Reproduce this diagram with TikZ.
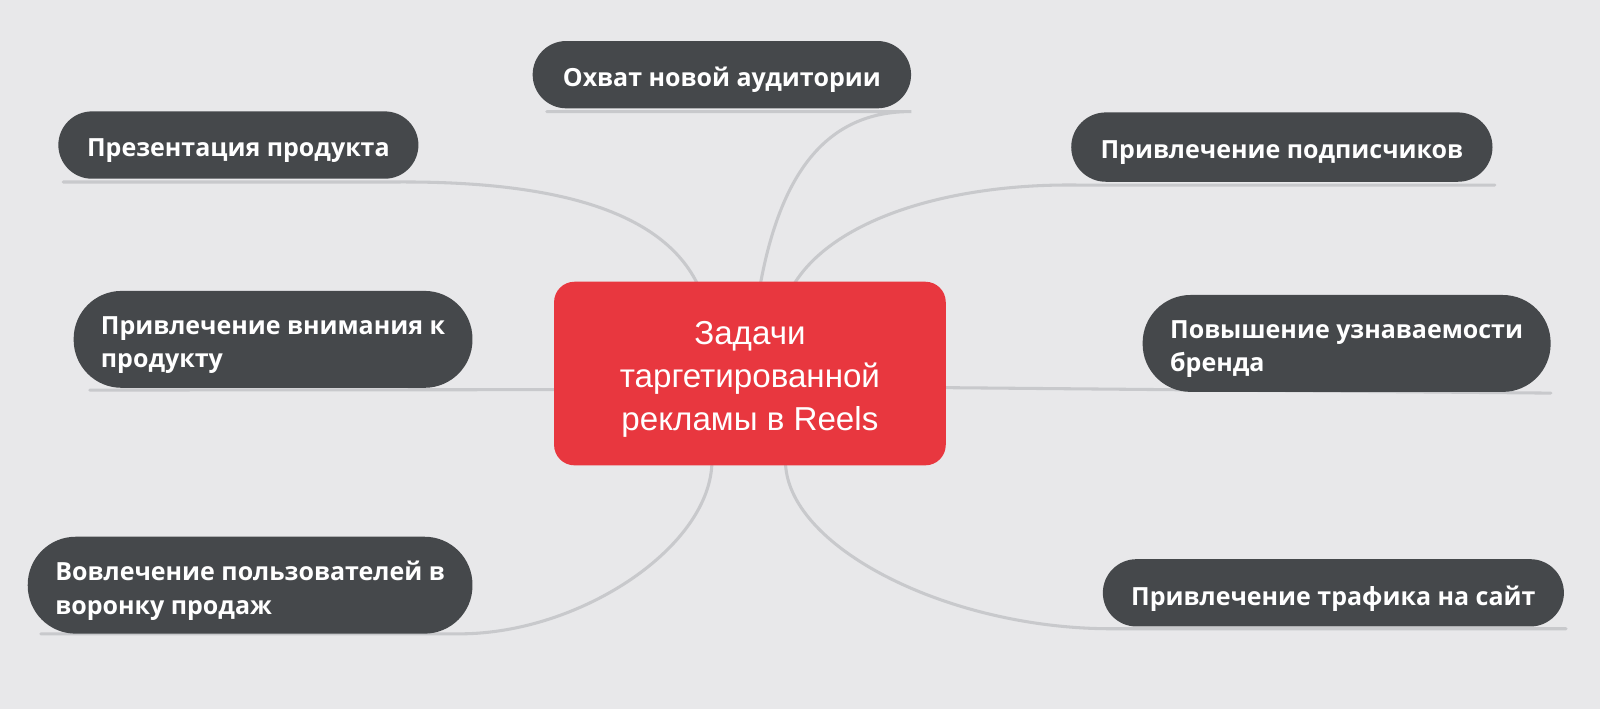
\documentclass[tikz,border=0pt]{standalone}
\usepackage{fontspec}
\setmainfont{Liberation Sans}
\newfontfamily\pillfont{Open Sans}
\usetikzlibrary{calc,backgrounds}
\definecolor{bg}{HTML}{E8E8EA}
\definecolor{pillc}{HTML}{45484B}
\definecolor{redc}{HTML}{E8373F}
\definecolor{linec}{HTML}{C8C9CC}
\newcommand{\dnl}[1]{\raisebox{-2.5pt}[\height][\depth]{#1}}
\tikzset{
 pill/.style={fill=pillc, text=white, font=\pillfont\bfseries\fontsize{24.5}{32.4}\selectfont, inner sep=0pt, anchor=north west, align=left, text depth=0pt},
 onepill/.style={pill, minimum height=66pt, rounded corners=33pt},
 twopill/.style={pill, minimum height=95pt, rounded corners=47pt},
 conn/.style={draw=linec, line width=3pt, line cap=round},
 hub/.style={fill=redc, text=white, rounded corners=20pt, inner sep=0pt, anchor=north west, align=center, font=\fontsize{32.5}{42.5}\selectfont, text depth=0pt},
}
\begin{document}
\begin{tikzpicture}[x=1pt,y=-1pt]
\useasboundingbox (0,0) rectangle (1568.6,695.1);
\node[hub, minimum width=384pt, minimum height=180pt] (c) at (543,276) {\dnl{Задачи}\\\dnl{таргетированной}\\\dnl{рекламы в Reels}};
\node[onepill, minimum width=371pt] (ohvat) at (522,40) {\dnl{Охват новой аудитории}};
\node[onepill, minimum width=353pt] (pres) at (57,109) {\dnl{Презентация продукта}};
\node[onepill, minimum width=413pt, minimum height=68pt, rounded corners=34pt] (pods) at (1050,110) {\dnl{Привлечение подписчиков}};
\node[twopill, minimum width=391pt] (vnim) at (72,285) {\dnl{Привлечение внимания к}\\\dnl{продукту}};
\node[twopill, minimum width=400pt] (brend) at (1120,289) {\dnl{Повышение узнаваемости}\\\dnl{бренда}};
\node[twopill, minimum width=436pt] (vovl) at (27,526) {\dnl{Вовлечение пользователей в}\\\dnl{воронку продаж}};
\node[onepill, minimum width=452pt] (traf) at (1081,548) {\dnl{Привлечение трафика на сайт}};
\begin{scope}[on background layer]
\fill[bg] (0,0) rectangle (1568.6,695.1);
\draw[conn] ($(c.north west)+(202,5)$) .. controls (765,170) and (810,109) .. ($(ohvat.south east)+(0,3)$) -- ($(ohvat.south west)+(14,3)$);
\draw[conn] ($(c.north west)+(142,5)$) .. controls (650,205) and (540,178) .. ($(pres.south east)+(-18,3)$) -- ($(pres.south west)+(5,3)$);
\draw[conn] ($(c.north west)+(234,5)$) .. controls (815,215) and (930,180) .. ($(pods.south west)+(5,3)$) -- ($(pods.south east)+(2,3)$);
\draw[conn] ($(c.north west)+(5,106)$) -- ($(vnim.south west)+(16,2)$);
\draw[conn] ($(c.north east)+(-5,104)$) -- ($(brend.south east)+(0,1)$);
\draw[conn] ($(c.south west)+(155,-5)$) .. controls (698,535) and (570,621) .. ($(vovl.south east)+(-12,0)$) -- ($(vovl.south west)+(13,0)$);
\draw[conn] ($(c.south west)+(227,-5)$) .. controls (770,536) and (929,616) .. ($(traf.south west)+(7,2)$) -- ($(traf.south east)+(2,2)$);
\end{scope}
\end{tikzpicture}
\end{document}
